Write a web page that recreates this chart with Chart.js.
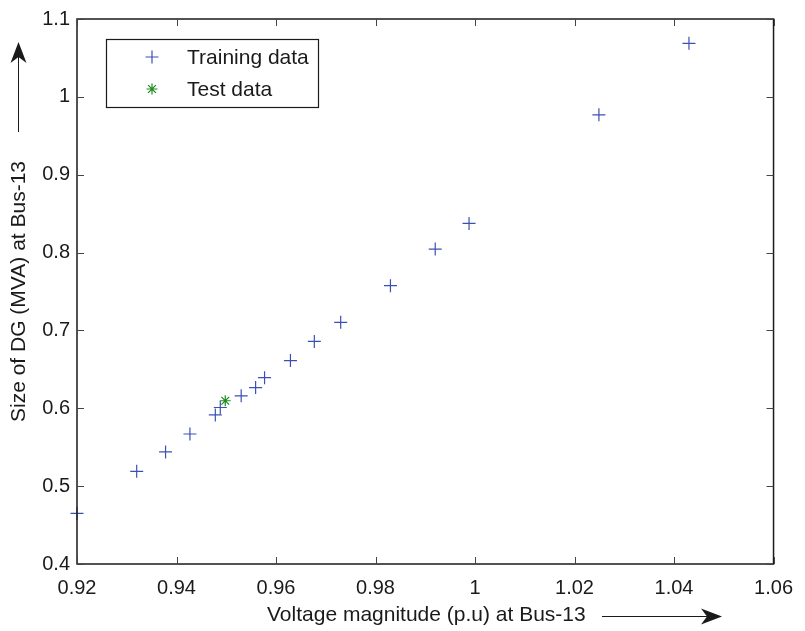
<!DOCTYPE html>
<html lang="en">
<head>
    <meta charset="UTF-8">
    <title>DG size vs voltage</title>
    <script src="https://cdn.jsdelivr.net/npm/chart.js"></script>
    <style>
        body { margin: 0; background: #fff; }
        .chart-box { width: 805px; height: 631px; }
    </style>
</head>
<body>
    <div class="chart-box">
        <canvas id="scatterChart" width="805" height="631"></canvas>
    </div>

    <script>
        // data
        const trainVoltage = [0.920, 0.932, 0.9378, 0.9427, 0.9478, 0.9488, 0.953, 0.9559, 0.9577,
            0.9629, 0.9677, 0.973, 0.983, 0.992, 0.9988, 1.0249, 1.043];
        const trainSize = [0.465, 0.519, 0.544, 0.567, 0.5915, 0.601, 0.616, 0.6266, 0.6393,
            0.6613, 0.6859, 0.7104, 0.7575, 0.8045, 0.8375, 0.9769, 1.0687];
        const testVoltage = [0.9498];
        const testSize = [0.6097];

        const xTickValues = [0.92, 0.94, 0.96, 0.98, 1.00, 1.02, 1.04, 1.06];
        const xTickLabels = ['0.92', '0.94', '0.96', '0.98', '1', '1.02', '1.04', '1.06'];
        const yTickValues = [0.4, 0.5, 0.6, 0.7, 0.8, 0.9, 1.0, 1.1];
        const yTickLabels = ['0.4', '0.5', '0.6', '0.7', '0.8', '0.9', '1', '1.1'];

        const FONT = '"Liberation Sans", Arial, Helvetica, sans-serif';
        const BLUE = '#3c50b4';
        const GREEN = '#1c8c1c';

        // arrow with a notched back, like the matlab annotation arrow
        function arrowHead(ctx, x, y, angle) {
            ctx.save();
            ctx.translate(x, y);
            ctx.rotate(angle);
            ctx.beginPath();
            ctx.moveTo(0, 0);
            ctx.lineTo(-21, -8);
            ctx.lineTo(-15, 0);
            ctx.lineTo(-21, 8);
            ctx.closePath();
            ctx.fill();
            ctx.restore();
        }

        const framePlugin = {
            id: 'frame',
            afterDraw(chart) {
                const ctx = chart.ctx;
                const a = chart.chartArea;
                const xs = chart.scales.x, ys = chart.scales.y;
                ctx.save();

                // box + inward ticks
                ctx.strokeStyle = '#1a1a1a';
                ctx.lineWidth = 1.5;
                ctx.strokeRect(a.left, a.top, a.right - a.left, a.bottom - a.top);
                ctx.strokeStyle = '#444';
                ctx.lineWidth = 1;
                ctx.beginPath();
                xTickValues.forEach(v => {
                    const px = Math.round(xs.getPixelForValue(v)) + 0.5;
                    ctx.moveTo(px, a.bottom); ctx.lineTo(px, a.bottom - 7);
                    ctx.moveTo(px, a.top); ctx.lineTo(px, a.top + 7);
                });
                yTickValues.forEach(v => {
                    const py = Math.round(ys.getPixelForValue(v)) + 0.5;
                    ctx.moveTo(a.left, py); ctx.lineTo(a.left + 7, py);
                    ctx.moveTo(a.right, py); ctx.lineTo(a.right - 7, py);
                });
                ctx.stroke();

                // axis titles with arrows
                ctx.fillStyle = '#1a1a1a';
                ctx.strokeStyle = '#1a1a1a';
                ctx.font = '21px ' + FONT;
                ctx.textBaseline = 'alphabetic';
                ctx.textAlign = 'left';
                ctx.fillText('Voltage magnitude (p.u) at Bus-13', 267, 621);
                ctx.lineWidth = 1;
                ctx.beginPath();
                ctx.moveTo(602, 616.5); ctx.lineTo(710, 616.5);
                ctx.stroke();
                arrowHead(ctx, 722, 616.5, 0);

                ctx.save();
                ctx.translate(25, 422);
                ctx.rotate(-Math.PI / 2);
                ctx.fillText('Size of DG (MVA) at Bus-13', 0, 0);
                ctx.restore();
                ctx.beginPath();
                ctx.moveTo(18.5, 132); ctx.lineTo(18.5, 54);
                ctx.stroke();
                arrowHead(ctx, 18.5, 42, -Math.PI / 2);

                // legend
                ctx.fillStyle = '#fff';
                ctx.fillRect(106, 39, 213, 68);
                ctx.strokeStyle = '#1a1a1a';
                ctx.lineWidth = 1.2;
                ctx.strokeRect(106.5, 39.5, 212, 68);
                ctx.fillStyle = '#1a1a1a';
                ctx.textBaseline = 'middle';
                ctx.fillText('Training data', 187, 58);
                ctx.fillText('Test data', 187, 90);
                ctx.strokeStyle = BLUE;
                ctx.lineWidth = 1.2;
                Chart.helpers.drawPoint(ctx, { pointStyle: 'cross', radius: 6.5, rotation: 0, borderWidth: 1.2 }, 152, 57);
                ctx.strokeStyle = GREEN;
                Chart.helpers.drawPoint(ctx, { pointStyle: 'star', radius: 5.5, rotation: 0, borderWidth: 1.2 }, 152, 89);
                ctx.restore();
            }
        };

        new Chart(document.getElementById('scatterChart'), {
            type: 'scatter',
            data: {
                datasets: [{
                    label: 'Training data',
                    data: trainVoltage.map((v, i) => ({ x: v, y: trainSize[i] })),
                    pointStyle: 'cross',
                    pointRadius: 6.5,
                    borderColor: BLUE,
                    backgroundColor: BLUE,
                    borderWidth: 1.2,
                    clip: false
                }, {
                    label: 'Test data',
                    data: testVoltage.map((v, i) => ({ x: v, y: testSize[i] })),
                    pointStyle: 'star',
                    pointRadius: 5.5,
                    borderColor: GREEN,
                    backgroundColor: GREEN,
                    borderWidth: 1.2,
                    clip: false
                }]
            },
            options: {
                responsive: false,
                animation: false,
                layout: { padding: { left: 0, top: 13, right: 27, bottom: 0 } },
                plugins: { legend: { display: false }, tooltip: { enabled: false } },
                scales: {
                    x: {
                        type: 'linear',
                        min: 0.92,
                        max: 1.06,
                        afterBuildTicks: s => { s.ticks = xTickValues.map(v => ({ value: v })); },
                        afterFit: s => { s.height = 67; },
                        grid: { display: false, drawTicks: false },
                        border: { display: false },
                        ticks: {
                            padding: 12,
                            color: '#1a1a1a',
                            font: { family: FONT, size: 20 },
                            maxRotation: 0,
                            callback: (v, i) => xTickLabels[i]
                        }
                    },
                    y: {
                        type: 'linear',
                        min: 0.4,
                        max: 1.1,
                        afterBuildTicks: s => { s.ticks = yTickValues.map(v => ({ value: v })); },
                        afterFit: s => { s.width = 77; },
                        grid: { display: false, drawTicks: false },
                        border: { display: false },
                        ticks: {
                            padding: 7,
                            color: '#1a1a1a',
                            font: { family: FONT, size: 20 },
                            callback: (v, i) => yTickLabels[i]
                        }
                    }
                }
            },
            plugins: [framePlugin]
        });
    </script>
</body>
</html>
